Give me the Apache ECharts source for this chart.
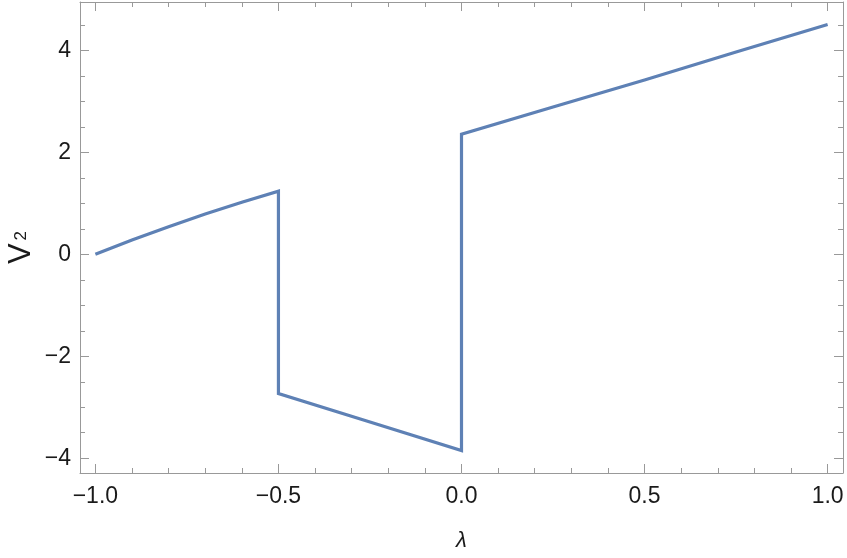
<!DOCTYPE html>
<html>
<head>
<meta charset="utf-8">
<script src="https://cdn.jsdelivr.net/npm/echarts@6/dist/echarts.min.js"></script>
<style>html,body{margin:0;padding:0;background:#fff}#c{width:847px;height:558px}</style>
</head>
<body>
<div id="c"></div>
<script>
// Data
const lambda = [-1.0, -0.9, -0.8, -0.7, -0.6, -0.5, -0.5, -0.25, 0.0, 0.0, 0.25, 0.5, 0.75, 1.0];
const v2     = [0.0, 0.28, 0.54, 0.79, 1.02, 1.24, -2.73, -3.29, -3.85, 2.355, 2.89, 3.42, 3.97, 4.51];

const xMajorTicks = [-1.0, -0.5, 0.0, 0.5, 1.0];
const xMinorTicks = [-0.9, -0.8, -0.7, -0.6, -0.4, -0.3, -0.2, -0.1, 0.1, 0.2, 0.3, 0.4, 0.6, 0.7, 0.8, 0.9];
const yMajorTicks = [-4, -2, 0, 2, 4];
const yMinorTicks = [-3.5, -3, -2.5, -1.5, -1, -0.5, 0.5, 1, 1.5, 2.5, 3, 3.5, 4.5];

const xRange = [-1.042, 1.042];
const yRange = [-4.29, 4.95];

const frameColor = '#999999';
const textColor = '#1a1a1a';
const fontFamily = '"Liberation Sans", Arial, sans-serif';

function fmtMinus(s) { return s.replace('-', '\u2212'); }

function makeAxis(kind, position, ticks, len, withLabels, showLine, extra) {
  const range = kind === 'x' ? xRange : yRange;
  const ax = {
    type: 'value',
    position: position,
    min: range[0],
    max: range[1],
    splitLine: { show: false },
    axisLine: { show: showLine, onZero: false, lineStyle: { color: frameColor, width: 1 } },
    axisTick: { show: true, inside: true, length: len, customValues: ticks, lineStyle: { color: frameColor, width: 1 } },
    axisLabel: { show: false },
    z: 5
  };
  if (withLabels) {
    ax.axisLabel = {
      show: true,
      customValues: ticks,
      color: textColor,
      fontSize: 23,
      fontFamily: fontFamily,
      margin: kind === 'x' ? 12 : 9,
      formatter: function (v) {
        return kind === 'x' ? fmtMinus(Number(v).toFixed(1)) : fmtMinus(String(Math.round(v)));
      }
    };
  }
  return Object.assign(ax, extra || {});
}

const xAxes = [
  makeAxis('x', 'bottom', xMajorTicks, 9, true, true, {
    name: '\u03bb',
    nameLocation: 'middle',
    nameGap: 57,
    nameTextStyle: { color: textColor, fontSize: 22, fontStyle: 'italic', fontFamily: fontFamily }
  }),
  makeAxis('x', 'bottom', xMinorTicks, 5, false, false),
  makeAxis('x', 'top', xMajorTicks, 9, false, true),
  makeAxis('x', 'top', xMinorTicks, 5, false, false)
];
const yAxes = [
  makeAxis('y', 'left', yMajorTicks, 9, true, true, {
    name: '{v|V}{s|2}',
    nameLocation: 'middle',
    nameRotate: 90,
    nameGap: 41,
    nameMoveOverlap: false,
    nameTextStyle: {
      color: textColor,
      fontFamily: fontFamily,
      fontSize: 31,
      lineHeight: 36,
      rich: {
        v: { fontSize: 31, lineHeight: 36, color: textColor, fontFamily: fontFamily },
        s: { fontSize: 17, lineHeight: 36, color: textColor, fontFamily: fontFamily, padding: [0, 20, 0, 3] }
      }
    }
  }),
  makeAxis('y', 'left', yMinorTicks, 5, false, false),
  makeAxis('y', 'right', yMajorTicks, 9, false, true),
  makeAxis('y', 'right', yMinorTicks, 5, false, false)
];

const chart = echarts.init(document.getElementById('c'), null, { renderer: 'canvas' });
chart.setOption({
  animation: false,
  backgroundColor: '#ffffff',
  grid: { left: 80, right: 4, top: 2, bottom: 85, containLabel: false, outerBoundsMode: 'none' },
  xAxis: xAxes,
  yAxis: yAxes,
  series: [{
    type: 'line',
    xAxisIndex: 0,
    yAxisIndex: 0,
    data: lambda.map((x, i) => [x, v2[i]]),
    showSymbol: false,
    symbol: 'none',
    lineStyle: { color: '#5E81B5', width: 3.2, join: 'miter' },
    itemStyle: { color: '#5E81B5' },
    z: 3
  }]
});
</script>
</body>
</html>
